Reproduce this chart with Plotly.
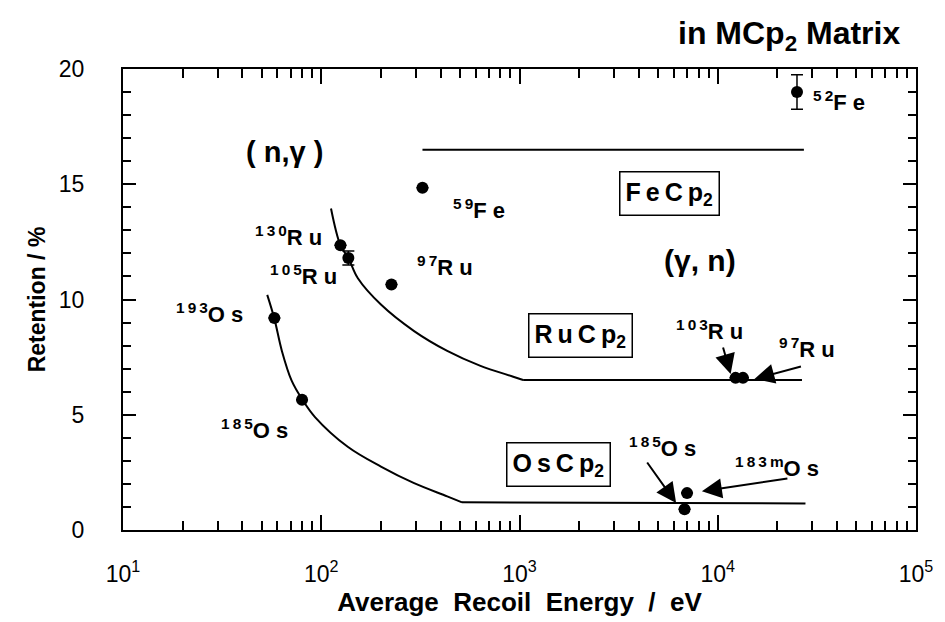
import math
import plotly.graph_objects as go
from plotly.subplots import make_subplots

# ---------------- data ----------------
# (n,gamma) points
ng_names = ["59Fe", "130Ru", "105Ru", "97Ru", "193Os", "185Os"]
ng_energy = [324, 125, 137, 226, 58, 80]
ng_retention = [14.85, 12.35, 11.8, 10.65, 9.2, 5.65]
ng_err = [0, 0, 0.3, 0, 0, 0]

# (gamma,n) points
gn_names = ["52Fe", "103Ru", "97Ru", "185Os", "183mOs"]
gn_energy = [25100, 12300, 13400, 6800, 7000]
gn_retention = [19.0, 6.6, 6.6, 0.9, 1.6]
gn_err = [0.75, 0, 0, 0, 0]

# guide curves
fe_energy = [324, 27200]
fe_retention = [16.5, 16.5]

ru_energy = [112, 125, 137, 153, 200, 294, 432, 631, 930, 1043]
ru_retention = [13.95, 12.35, 11.8, 10.92, 9.78, 8.63, 7.77, 7.13, 6.65, 6.51]
ru_flat_energy = [1043, 26600]
ru_flat_retention = [6.51, 6.51]

os_energy = [53.4, 58, 63.3, 70.9, 80.4, 93, 136, 200, 294, 432, 513]
os_retention = [10.2, 9.17, 7.77, 6.48, 5.65, 4.9, 3.61, 2.75, 2.03, 1.46, 1.2]
os_flat_energy = [513, 27700]
os_flat_retention = [1.2, 1.15]

x_tickvals = [10, 100, 1000, 10000, 100000]
x_ticktext = ["10<sup>1</sup>", "10<sup>2</sup>", "10<sup>3</sup>", "10<sup>4</sup>", "10<sup>5</sup>"]

FONT = "Liberation Sans, Arial, sans-serif"
BLACK = "black"
NB = "\u00a0"   # non-breaking space
T = "\u2009"    # thin space

fig = make_subplots(rows=1, cols=1)

line_style = dict(color=BLACK, width=2)
spline_style = dict(color=BLACK, width=2, shape="spline", smoothing=1)
fig.add_trace(go.Scatter(x=fe_energy, y=fe_retention, mode="lines", line=line_style, hoverinfo="skip"), row=1, col=1)
fig.add_trace(go.Scatter(x=ru_flat_energy, y=ru_flat_retention, mode="lines", line=line_style, hoverinfo="skip"), row=1, col=1)
fig.add_trace(go.Scatter(x=os_flat_energy, y=os_flat_retention, mode="lines", line=line_style, hoverinfo="skip"), row=1, col=1)
fig.add_trace(go.Scatter(x=ru_energy, y=ru_retention, mode="lines", line=spline_style, hoverinfo="skip"), row=1, col=1)
fig.add_trace(go.Scatter(x=os_energy, y=os_retention, mode="lines", line=spline_style, hoverinfo="skip"), row=1, col=1)

fig.add_trace(go.Scatter(
    x=ng_energy, y=ng_retention, mode="markers", text=ng_names,
    marker=dict(color=BLACK, size=12),
    error_y=dict(type="data", array=ng_err, color=BLACK, thickness=1.5, width=6),
), row=1, col=1)
fig.add_trace(go.Scatter(
    x=gn_energy, y=gn_retention, mode="markers", text=gn_names,
    marker=dict(color=BLACK, size=12),
    error_y=dict(type="data", array=gn_err, color=BLACK, thickness=1.5, width=6),
), row=1, col=1)


def iso(mass, sym):
    return "<sup>" + T.join(mass) + "</sup>" + NB.join(sym)


annotations = []


def add_text(text, x, y, size=22, xanchor="center", **kw):
    annotations.append(dict(
        text="<b>" + text + "</b>",
        x=math.log10(x), y=y, xref="x", yref="y", showarrow=False,
        xanchor=xanchor, yanchor="middle",
        font=dict(family=FONT, size=size, color=BLACK), **kw))


# isotope labels (position in energy / retention coordinates)
add_text(iso("52", "Fe"), 10 ** 4.47, 18.6, xanchor="left")
add_text(iso("59", "Fe"), 10 ** 2.795, 13.94)
add_text(iso("130", "Ru"), 10 ** 1.835, 12.77)
add_text(iso("105", "Ru"), 10 ** 1.91, 11.05)
add_text(iso("97", "Ru"), 10 ** 2.625, 11.44)
add_text(iso("193", "Os"), 10 ** 1.435, 9.42)
add_text(iso("185", "Os"), 10 ** 1.665, 4.39)
add_text(iso("103", "Ru"), 10 ** 3.96, 8.69)
add_text(iso("97", "Ru"), 10 ** 4.45, 7.91)
add_text(iso("185", "Os"), 10 ** 3.72, 3.61)
add_text(iso("183m", "Os"), 10 ** 4.30, 2.75)

add_text("(" + NB + "n,γ" + NB + ")", 10 ** 1.815, 16.39, size=29)
add_text("(γ," + NB + "n)", 10 ** 3.91, 11.7, size=30)

box = dict(bordercolor=BLACK, borderwidth=1.5, borderpad=5)
add_text(T.join("FeCp") + "<sub>2</sub>", 10 ** 3.755, 14.58, size=25, **box)
add_text(T.join("RuCp") + "<sub>2</sub>", 10 ** 3.31, 8.43, size=25, **box)
add_text(T.join("OsCp") + "<sub>2</sub>", 10 ** 3.195, 2.84, size=25, **box)

# arrows: tip at data coords, tail offsets in px
arrows = [
    (10 ** 4.065, 6.77, -8, -28),
    (10 ** 4.185, 6.55, 48, -13),
    (10 ** 3.79, 1.17, -30, -42),
    (10 ** 3.92, 1.68, 87, -13),
]
for ex, ry, axp, ayp in arrows:
    annotations.append(dict(
        x=math.log10(ex), y=ry, xref="x", yref="y", text="",
        showarrow=True, ax=axp, ay=ayp, arrowhead=2, arrowsize=2,
        arrowwidth=2, arrowcolor=BLACK, standoff=0))

annotations.append(dict(
    text="<b>in MCp<sub>2</sub> Matrix</b>", xref="paper", yref="paper",
    x=0.84, y=1.073, xanchor="center", yanchor="middle", showarrow=False,
    font=dict(family=FONT, size=32, color=BLACK)))

fig.update_layout(
    width=945, height=622,
    margin=dict(l=123, r=22, t=69, b=88),
    paper_bgcolor="white", plot_bgcolor="white",
    showlegend=False,
    annotations=annotations,
    font=dict(family=FONT, color=BLACK),
)

fig.update_xaxes(
    type="log", range=[1, 5],
    tickvals=x_tickvals, ticktext=x_ticktext,
    ticks="inside", ticklen=15, tickwidth=2, tickcolor=BLACK,
    showline=True, linecolor=BLACK, linewidth=2, mirror="ticks",
    gridcolor="white",
    tickfont=dict(family=FONT, size=23, color=BLACK),
    ticklabelstandoff=22,
    minor=dict(ticks="inside", ticklen=9, tickwidth=2, tickcolor=BLACK, dtick="D1"),
    title=dict(text="<b>Average" + NB * 2 + "Recoil" + NB * 2 + "Energy" + NB * 2 + "/" + NB * 2 + "eV</b>",
               font=dict(family=FONT, size=26, color=BLACK), standoff=5),
    row=1, col=1,
)
fig.update_yaxes(
    range=[0, 20], dtick=5, tick0=0,
    ticks="inside", ticklen=13, tickwidth=2, tickcolor=BLACK,
    showline=True, linecolor=BLACK, linewidth=2, mirror="ticks",
    gridcolor="white", zeroline=False,
    tickfont=dict(family=FONT, size=23, color=BLACK),
    ticklabelstandoff=32,
    minor=dict(ticks="inside", ticklen=8, tickwidth=2, tickcolor=BLACK, dtick=1),
    title=dict(text="<b>Retention / %</b>", font=dict(family=FONT, size=23, color=BLACK), standoff=7),
    row=1, col=1,
)

fig.write_html("out.html")
